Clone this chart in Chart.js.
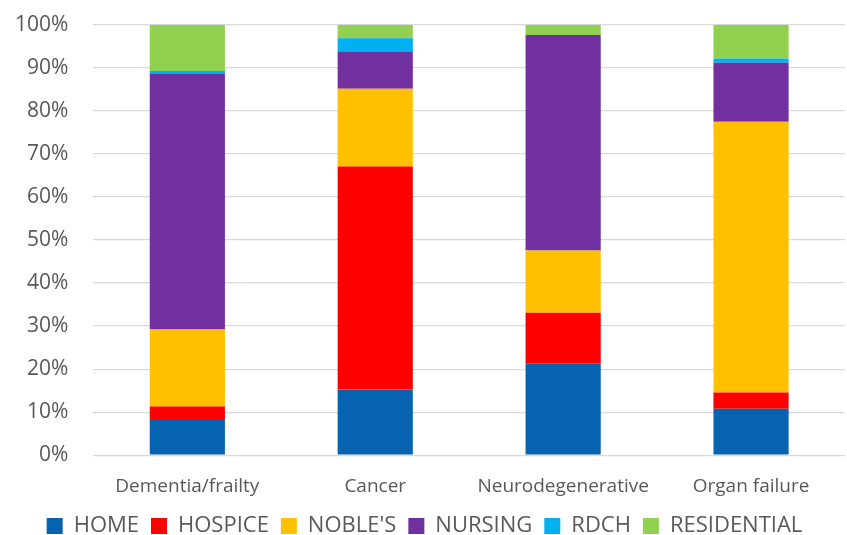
<!DOCTYPE html>
<html>
<head>
<meta charset="utf-8">
<script src="https://cdn.jsdelivr.net/npm/chart.js@4/dist/chart.umd.min.js"></script>
<style>
  html, body { margin: 0; padding: 0; background: #fff; }
  #wrap { width: 847px; height: 535px; }
</style>
</head>
<body>
<div id="wrap"><canvas id="myChart"></canvas></div>
<script>
const categories = ['Dementia/frailty', 'Cancer', 'Neurodegenerative', 'Organ failure'];

// percentage share of each place of death, per condition
const home = [8.4, 15.3, 21.4, 10.8];
const hospice = [2.9, 51.8, 11.7, 3.8];
const nobles = [17.9, 18.1, 14.5, 62.9];
const nursing = [59.4, 8.5, 50.1, 13.7];
const rdch = [0.7, 3.2, 0, 1.0];
const residential = [10.7, 3.1, 2.3, 7.8];

const colors = {
  home: '#0563AF',
  hospice: '#FF0000',
  nobles: '#FFC000',
  nursing: '#7030A0',
  rdch: '#00B0F0',
  residential: '#92D050',
};

const mk = (label, data, color) => ({
  label: label,
  data: data,
  backgroundColor: color,
  borderWidth: 0,
  barPercentage: 0.4,
  categoryPercentage: 1.0,
});

// pull the legend closer to the bottom edge without shrinking the gaps between items
const legendDrop = {
  id: 'legendDrop',
  afterInit(chart) {
    const fit = chart.legend.fit;
    chart.legend.fit = function () {
      fit.call(this);
      this.height -= 12;
    };
  },
};

const ctx = document.getElementById('myChart').getContext('2d');
new Chart(ctx, {
  type: 'bar',
  data: {
    labels: categories,
    datasets: [
      mk('HOME', home, colors.home),
      mk('HOSPICE', hospice, colors.hospice),
      mk("NOBLE'S", nobles, colors.nobles),
      mk('NURSING', nursing, colors.nursing),
      mk('RDCH', rdch, colors.rdch),
      mk('RESIDENTIAL', residential, colors.residential),
    ],
  },
  plugins: [legendDrop],
  options: {
    responsive: true,
    maintainAspectRatio: false,
    animation: false,
    layout: { padding: { left: 4, right: 2, top: 0, bottom: 0 } },
    plugins: {
      tooltip: { enabled: false },
      legend: {
        position: 'bottom',
        labels: {
          color: '#595959',
          font: { family: 'Open Sans', size: 22 },
          boxWidth: 16,
          boxHeight: 16,
          padding: 12,
        },
      },
    },
    scales: {
      x: {
        stacked: true,
        grid: { display: false },
        border: { display: false },
        afterFit(scale) {
          scale.height -= 7;
        },
        ticks: {
          color: '#595959',
          font: { family: 'Open Sans', size: 19 },
          padding: 12,
          maxRotation: 0,
          minRotation: 0,
          autoSkip: false,
        },
      },
      y: {
        stacked: true,
        min: 0,
        max: 100,
        grid: { color: '#D9D9D9', lineWidth: 1.3, drawTicks: false },
        border: { display: false },
        // keep the label gap on the side only, not above the top line
        afterFit(scale) {
          scale.paddingTop = 25;
          scale.paddingBottom = 13;
          scale.width -= 14;
        },
        ticks: {
          stepSize: 10,
          color: '#595959',
          font: { family: 'Open Sans', size: 21 },
          padding: 25,
          callback: v => v + '%',
        },
      },
    },
  },
});
</script>
</body>
</html>
